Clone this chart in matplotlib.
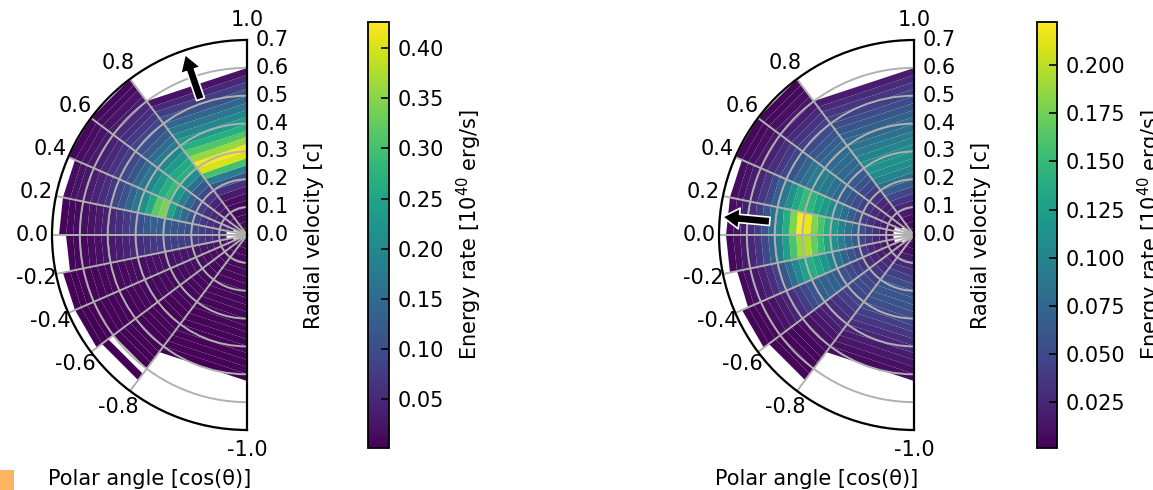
import numpy as np
import matplotlib

matplotlib.use("Agg")
import matplotlib.pyplot as plt
from matplotlib.patches import Rectangle

plt.rcParams["font.family"] = "DejaVu Sans"
plt.rcParams["font.size"] = 15

nan = np.nan

# angular bins in cos(theta), radial bins in units of c
MU_EDGES = [-1.0, -0.8, -0.6, -0.4, -0.2, 0.0, 0.2, 0.4, 0.6, 0.8, 1.0]
VEL_EDGES = np.linspace(0.0, 0.7, 29)
MU_TICKS = [1.0, 0.8, 0.6, 0.4, 0.2, 0.0, -0.2, -0.4, -0.6, -0.8, -1.0]
MU_LABELS = ["1.0", "0.8", "0.6", "0.4", "0.2", "0.0", "-0.2", "-0.4", "-0.6", "-0.8", "-1.0"]
VEL_TICKS = [0.0, 0.1, 0.2, 0.3, 0.4, 0.5, 0.6, 0.7]

# energy rate per (mu bin, velocity bin), 1e40 erg/s; rows run mu = -1 -> 1
RATE_A = [
    [0.008, 0.010, 0.012, 0.012, 0.012, 0.012, 0.012, 0.012, 0.011, 0.010, 0.010, 0.009, 0.009, 0.008,
     0.008, 0.007, 0.007, 0.006, 0.006, 0.005, 0.004, nan, nan, nan, nan, nan, nan, nan],
    [0.008, 0.010, 0.012, 0.013, 0.013, 0.013, 0.013, 0.012, 0.012, 0.011, 0.011, 0.010, 0.010, 0.009,
     0.009, 0.008, 0.008, 0.007, 0.007, 0.006, 0.006, 0.005, 0.005, 0.004, nan, 0.004, nan, nan],
    [0.010, 0.012, 0.014, 0.015, 0.016, 0.016, 0.016, 0.016, 0.015, 0.015, 0.014, 0.014, 0.013, 0.012,
     0.012, 0.011, 0.010, 0.010, 0.009, 0.008, 0.008, 0.007, 0.006, 0.006, 0.005, 0.004, 0.004, nan],
    [nan, nan, 0.020, 0.022, 0.024, 0.025, 0.026, 0.026, 0.026, 0.025, 0.024, 0.023, 0.022, 0.020,
     0.019, 0.018, 0.016, 0.015, 0.014, 0.012, 0.011, 0.010, 0.009, 0.008, 0.007, 0.006, 0.005, nan],
    [nan, nan, nan, 0.042, 0.052, 0.060, 0.068, 0.074, 0.078, 0.080, 0.080, 0.079, 0.076, 0.071,
     0.064, 0.057, 0.050, 0.043, 0.036, 0.030, 0.024, 0.020, 0.016, 0.012, 0.010, 0.008, nan, nan],
    [nan, nan, nan, 0.050, 0.060, 0.070, 0.080, 0.090, 0.100, 0.110, 0.115, 0.120, 0.125, 0.130,
     0.120, 0.105, 0.090, 0.075, 0.060, 0.048, 0.038, 0.030, 0.024, 0.018, 0.014, 0.010, 0.008, nan],
    [nan, nan, 0.040, 0.045, 0.050, 0.060, 0.075, 0.095, 0.120, 0.150, 0.190, 0.250, 0.340, 0.320,
     0.260, 0.210, 0.170, 0.140, 0.110, 0.090, 0.070, 0.055, 0.045, 0.035, 0.028, 0.022, 0.016, nan],
    [0.020, 0.022, 0.025, 0.030, 0.038, 0.048, 0.060, 0.080, 0.105, 0.140, 0.180, 0.230, 0.290, 0.270,
     0.230, 0.200, 0.170, 0.140, 0.115, 0.095, 0.078, 0.062, 0.050, 0.040, 0.030, 0.022, 0.016, 0.010],
    [0.015, 0.016, 0.018, 0.020, 0.024, 0.030, 0.045, 0.065, 0.090, 0.120, 0.160, 0.210, 0.270, 0.260,
     0.230, 0.200, 0.175, 0.150, 0.125, 0.105, 0.088, 0.072, 0.060, 0.050, 0.036, 0.024, 0.016, 0.010],
    [0.010, 0.010, 0.010, 0.012, 0.014, 0.018, 0.030, 0.060, 0.110, 0.180, 0.300, 0.400, 0.420, 0.360,
     0.310, 0.270, 0.230, 0.200, 0.170, 0.140, 0.110, 0.080, 0.050, 0.022, nan, nan, nan, nan],
]

RATE_B = [
    [0.006, 0.008, 0.012, 0.018, 0.026, 0.034, 0.044, 0.052, 0.058, 0.060, 0.058, 0.054, 0.048, 0.042,
     0.036, 0.030, 0.024, 0.018, 0.014, 0.010, 0.008, nan, nan, nan, nan, nan, nan, nan],
    [0.006, 0.008, 0.011, 0.015, 0.020, 0.026, 0.032, 0.038, 0.044, 0.048, 0.050, 0.049, 0.046, 0.041,
     0.035, 0.029, 0.023, 0.018, 0.014, 0.011, 0.009, 0.007, 0.006, 0.005, 0.004, 0.004, nan, nan],
    [nan, nan, 0.008, 0.011, 0.015, 0.019, 0.024, 0.030, 0.036, 0.043, 0.050, 0.057, 0.063, 0.068,
     0.070, 0.067, 0.060, 0.050, 0.040, 0.031, 0.023, 0.017, 0.013, 0.009, 0.007, 0.005, 0.004, nan],
    [nan, nan, nan, 0.010, 0.014, 0.020, 0.027, 0.036, 0.047, 0.059, 0.072, 0.086, 0.100, 0.116,
     0.132, 0.140, 0.126, 0.104, 0.080, 0.060, 0.043, 0.030, 0.021, 0.014, 0.010, 0.007, nan, nan],
    [nan, nan, nan, 0.010, 0.018, 0.026, 0.036, 0.048, 0.062, 0.078, 0.094, 0.112, 0.130, 0.150,
     0.170, 0.195, 0.190, 0.160, 0.126, 0.096, 0.070, 0.050, 0.034, 0.024, 0.016, 0.010, 0.006, nan],
    [nan, nan, nan, 0.010, 0.020, 0.030, 0.040, 0.055, 0.070, 0.085, 0.100, 0.120, 0.140, 0.160,
     0.180, 0.215, 0.222, 0.180, 0.140, 0.110, 0.080, 0.060, 0.040, 0.030, 0.020, 0.012, 0.008, nan],
    [nan, nan, nan, 0.010, 0.016, 0.024, 0.032, 0.042, 0.054, 0.066, 0.080, 0.094, 0.108, 0.120,
     0.132, 0.145, 0.150, 0.135, 0.112, 0.090, 0.068, 0.050, 0.036, 0.025, 0.018, 0.012, 0.008, nan],
    [nan, nan, 0.008, 0.012, 0.016, 0.022, 0.028, 0.035, 0.043, 0.052, 0.060, 0.068, 0.076, 0.084,
     0.090, 0.096, 0.094, 0.084, 0.072, 0.060, 0.048, 0.038, 0.029, 0.021, 0.015, 0.010, 0.007, 0.005],
    [0.006, 0.008, 0.010, 0.013, 0.016, 0.020, 0.026, 0.033, 0.041, 0.050, 0.058, 0.065, 0.071, 0.075,
     0.078, 0.078, 0.074, 0.067, 0.059, 0.051, 0.043, 0.035, 0.027, 0.020, 0.014, 0.010, 0.007, 0.005],
    [0.006, 0.008, 0.010, 0.016, 0.024, 0.034, 0.048, 0.064, 0.082, 0.098, 0.108, 0.112, 0.108, 0.100,
     0.092, 0.084, 0.076, 0.068, 0.060, 0.052, 0.044, 0.036, 0.028, 0.018, nan, nan, nan, nan],
]

COLOR_RANGE_A = (0.0015, 0.426)
COLOR_RANGE_B = (0.0010, 0.2225)
CBAR_TICKS_A = [0.05, 0.10, 0.15, 0.20, 0.25, 0.30, 0.35, 0.40]
CBAR_TICKS_B = [0.025, 0.050, 0.075, 0.100, 0.125, 0.150, 0.175, 0.200]
CBAR_FMT_A = "%.2f"
CBAR_FMT_B = "%.3f"

# arrows: (mu, r_tail, r_tip)
ARROW_A = (0.946, 0.515, 0.685)
ARROW_B = (0.094, 0.52, 0.69)

W, H = 1153, 490


def px_box(x0, y0, x1, y1):
    """figure-fraction rect from pixel corners (y measured from top)"""
    return [x0 / W, 1 - y1 / H, (x1 - x0) / W, (y1 - y0) / H]


def half_polar(fig, spine_x, rate, crange, arrow):
    # the half disc sits centred in a square box, so the box spans 2*R around it
    R = 195
    x_left = spine_x - R
    ax = fig.add_axes(px_box(x_left - R / 2, 40, spine_x + R / 2, 40 + 2 * R),
                      projection="polar")
    ax.set_theta_zero_location("N")
    ax.set_theta_direction(1)
    ax.set_thetamin(0)
    ax.set_thetamax(180)

    theta = np.arccos(np.array(MU_EDGES))
    data = np.ma.masked_invalid(np.array(rate, dtype=float))
    mesh = ax.pcolormesh(theta, VEL_EDGES, data.T, cmap="viridis",
                         vmin=crange[0], vmax=crange[1], shading="flat",
                         antialiased=True, linewidth=0)

    ax.set_ylim(0, 0.7)
    ax.set_yticks(VEL_TICKS)
    ax.set_yticklabels([f"{v:.1f}" for v in VEL_TICKS])
    ax.set_thetagrids(np.degrees(np.arccos(MU_TICKS)), labels=MU_LABELS)
    ax.grid(True, color="#b0b0b0", lw=1.4)
    ax.tick_params(axis="y", length=0, pad=6)
    ax.tick_params(axis="x", pad=4)
    for sp in ax.spines.values():
        sp.set_linewidth(1.6)
        sp.set_color("black")

    ax.set_xlabel("Polar angle [cos(θ)]")
    ax.xaxis.set_label_coords(0.5, -0.10)
    ax.set_ylabel("Radial velocity [c]")
    ax.yaxis.set_label_position("right")
    ax.yaxis.set_label_coords((spine_x + 57 - (x_left - R / 2)) / (2 * R), 0.5)

    mu, r0, r1 = arrow
    th = np.arccos(mu)
    ax.annotate("", xy=(th, r1), xytext=(th, r0),
                arrowprops=dict(facecolor="black", edgecolor="white", lw=1.2,
                                width=6, headwidth=15, headlength=12, shrink=0))
    return mesh


def add_cbar(fig, mesh, rect, ticks, fmt):
    cax = fig.add_axes(rect)
    cb = fig.colorbar(mesh, cax=cax, ticks=ticks, format=fmt)
    cb.outline.set_linewidth(1.3)
    cb.ax.tick_params(direction="in", length=6, width=1.2, pad=6)
    cb.set_label(r"Energy rate [$10^{40}$ erg/s]", labelpad=8)
    return cb


fig = plt.figure(figsize=(W / 100, H / 100), dpi=100)

m1 = half_polar(fig, 247, RATE_A, COLOR_RANGE_A, ARROW_A)
add_cbar(fig, m1, px_box(368, 22, 389, 448), CBAR_TICKS_A, CBAR_FMT_A)

m2 = half_polar(fig, 914, RATE_B, COLOR_RANGE_B, ARROW_B)
add_cbar(fig, m2, px_box(1037, 22, 1057, 448), CBAR_TICKS_B, CBAR_FMT_B)

fig.patches.append(Rectangle((0, 0), 14 / W, 20 / H, transform=fig.transFigure,
                             facecolor="#fdb462", edgecolor="none"))

fig.savefig("out.png", dpi=100)
